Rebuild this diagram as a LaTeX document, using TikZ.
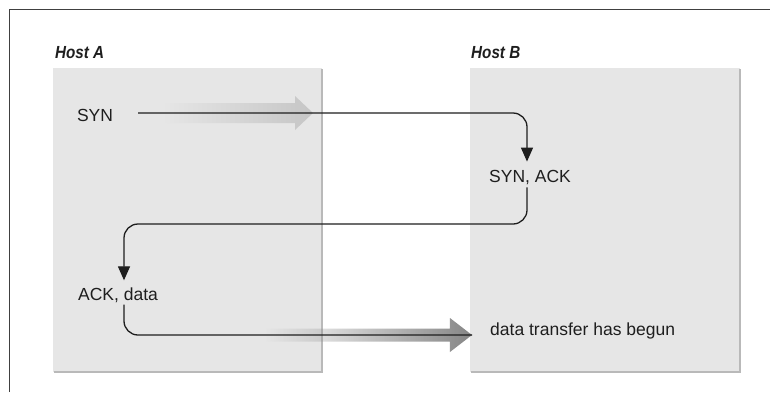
\documentclass[tikz,border=0pt]{standalone}
\usepackage{fontspec}
\setmainfont{Liberation Sans}
\newfontfamily\hostfont[FakeStretch=0.87]{Liberation Sans}
\usetikzlibrary{arrows.meta,fadings}
\definecolor{boxgray}{RGB}{230,230,230}
\definecolor{edgegray}{RGB}{185,185,185}
\definecolor{inkgray}{RGB}{30,30,30}
\begin{document}
\begin{tikzpicture}[x=1pt,y=-1pt,
  hostbox/.style={fill=boxgray},
  boxedge/.style={draw=edgegray,line width=2pt},
  lbl/.style={font=\fontsize{17.5}{20}\selectfont,inner sep=2pt,text=inkgray},
  hostlbl/.style={font=\hostfont\fontsize{17.5}{20}\selectfont\bfseries\itshape,inner sep=0pt,text=inkgray},
  conn/.style={line width=1.3pt,draw=inkgray,rounded corners=14pt},
  tip/.style={-{Triangle[length=14pt,width=12pt]}},
  fat/.style={path fading=west},
]
\useasboundingbox (0,0) rectangle (770,392);
\fill[white] (0,0) rectangle (770,392);

% page frame (only the left and top rules fall inside the picture)
\draw[line width=1pt,black!75] (9,392) -- (9,9) -- (770,9);

% the two hosts
\fill[hostbox] (53,68) rectangle (322,372);
\draw[boxedge] (322,69) -- (322,372) -- (54,372);
\fill[hostbox] (470,68) rectangle (740,372);
\draw[boxedge] (740,69) -- (740,372) -- (471,372);

\node[hostlbl,anchor=west] (hosta) at (55,53) {Host A};
\node[hostlbl,anchor=west] (hostb) at (471,53) {Host B};

% messages
\node[lbl] (syn) at (95,115) {SYN};
\node[lbl] (synack) at (530,178) {SYN, ACK};
\node[lbl] (ackdata) at (118,295) {ACK, data};
\node[lbl,anchor=base west] (dtb) at (488,335) {data transfer has begun};

% broad shaded arrows
\fill[gray!45,fat] (165,103) -- (295,103) -- (295,96) -- (313,113) -- (295,130)
  -- (295,123) -- (165,123) -- cycle;
\fill[gray!95,fat] (265,328.5) -- (450,328.5) -- (450,318) -- (472,335) -- (450,352)
  -- (450,341.5) -- (265,341.5) -- cycle;

% handshake connectors
\draw[conn,tip] ([shift={(23pt,2pt)}]syn.east) -| ([xshift=-3pt,yshift=7pt]synack.north);
\draw[conn,tip] ([xshift=-3pt]synack.south) |- ([xshift=6pt]ackdata.north |- 0,224)
  -- ([xshift=6pt,yshift=5pt]ackdata.north);
\draw[conn] ([xshift=6pt]ackdata.south) |- ([xshift=-16pt]dtb.base west);
\end{tikzpicture}
\end{document}
